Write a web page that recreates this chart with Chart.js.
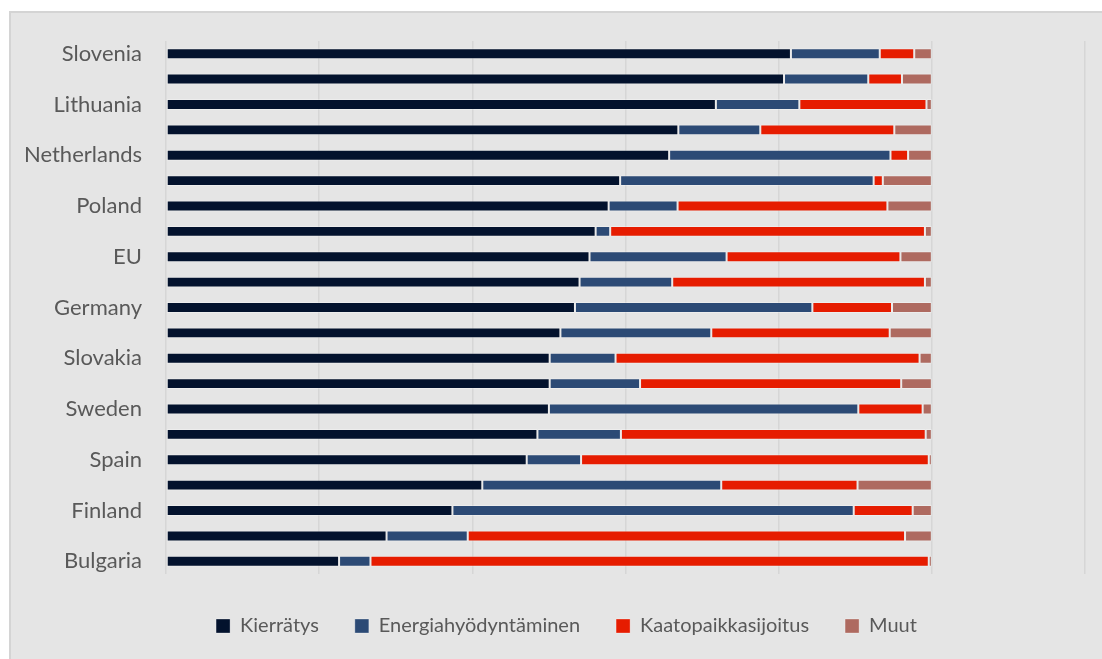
<!DOCTYPE html>
<html>
<head>
<meta charset="utf-8">
<script src="https://cdn.jsdelivr.net/npm/chart.js@4/dist/chart.umd.min.js"></script>
<style>
  body { margin: 0; background: #ffffff; }
  .panel {
    position: absolute;
    left: 9px;
    top: 11px;
    width: 1093px;
    height: 648px;
    background: #e5e5e5;
    border-top: 2px solid #d4d4d4;
    border-left: 2px solid #d4d4d4;
  }
</style>
</head>
<body>
<div class="panel"><canvas id="waste-chart"></canvas></div>
<script>
// every other country is left unlabelled on the axis
const countries = ["Slovenia", "", "Lithuania", "", "Netherlands", "", "Poland", "", "EU", "",
  "Germany", "", "Slovakia", "", "Sweden", "", "Spain", "", "Finland", "", "Bulgaria"];

// shares in percent
const kierratys = [81.6, 80.7, 71.8, 66.9, 65.7, 59.3, 57.8, 56.1, 55.3, 54.0, 53.4,
  51.5, 50.1, 50.1, 50.0, 48.5, 47.1, 41.3, 37.4, 28.8, 22.6];
const energiahyodyntaminen = [11.6, 11.0, 10.9, 10.7, 28.9, 33.1, 9.0, 1.9, 17.9, 12.1, 31.0,
  19.7, 8.6, 11.8, 40.4, 10.9, 7.1, 31.2, 52.4, 10.6, 4.1];
const kaatopaikkasijoitus = [4.5, 4.4, 16.6, 17.5, 2.3, 1.2, 27.4, 41.1, 22.7, 33.0, 10.4,
  23.3, 39.7, 34.1, 8.4, 39.8, 45.4, 17.8, 7.7, 57.1, 72.9];
const muut = [2.3, 3.9, 0.7, 4.9, 3.1, 6.4, 5.8, 0.9, 4.1, 0.9, 5.2,
  5.5, 1.6, 4.0, 1.2, 0.8, 0.4, 9.7, 2.5, 3.5, 0.4];

const seriesNames = ["Kierrätys", "Energiahyödyntäminen", "Kaatopaikkasijoitus", "Muut"];
const seriesColors = ["#03122d", "#2c4a75", "#e61c00", "#ae6a60"];
const xTicks = [0, 20, 40, 60, 80, 100, 120];

const FONT = "Lato, 'Noto Sans', sans-serif";
const TEXT_COLOR = "#595959";

function makeSet(i, values) {
  return {
    label: seriesNames[i],
    data: values,
    backgroundColor: seriesColors[i],
    borderColor: "rgba(255,255,255,0.3)",
    borderWidth: 1,
    borderSkipped: false,
    categoryPercentage: 1,
    barPercentage: 0.43,
  };
}

// nudge the legend row a little to the right of the canvas centre
const legendShift = {
  id: "legendShift",
  afterLayout(chart) {
    chart.legend.left += 14;
    chart.legend.right += 14;
  },
};

let chartContext = document.getElementById("waste-chart").getContext("2d");
let bars = new Chart(chartContext, {
  type: "bar",
  data: {
    labels: countries,
    datasets: [
      makeSet(0, kierratys),
      makeSet(1, energiahyodyntaminen),
      makeSet(2, kaatopaikkasijoitus),
      makeSet(3, muut),
    ],
  },
  plugins: [legendShift],
  options: {
    indexAxis: "y",
    responsive: true,
    maintainAspectRatio: false,
    animation: false,
    layout: { padding: { top: 28, left: 9, right: 19, bottom: 15 } },
    scales: {
      x: {
        stacked: true,
        min: xTicks[0],
        max: xTicks[xTicks.length - 1],
        afterBuildTicks: (scale) => { scale.ticks = xTicks.map((v) => ({ value: v })); },
        ticks: { display: false },
        grid: { color: "#d6d6d6", lineWidth: 1.5, drawTicks: false },
        border: { display: false },
        afterFit: (scale) => { scale.height = 6; },
      },
      y: {
        stacked: true,
        ticks: {
          autoSkip: false,
          padding: 24,
          color: TEXT_COLOR,
          font: { family: FONT, size: 22 },
        },
        grid: { display: false, drawTicks: false },
        border: { display: false },
        afterFit: (scale) => {
          // fixed label column, and no extra room above/below for the tick labels
          scale.width = 146;
          scale.paddingTop = 0;
          scale.paddingBottom = 0;
        },
      },
    },
    plugins: {
      legend: {
        position: "bottom",
        labels: {
          boxWidth: 14,
          boxHeight: 14,
          padding: 36,
          color: TEXT_COLOR,
          font: { family: FONT, size: 20 },
        },
      },
      tooltip: { enabled: true },
    },
  },
});
</script>
</body>
</html>
